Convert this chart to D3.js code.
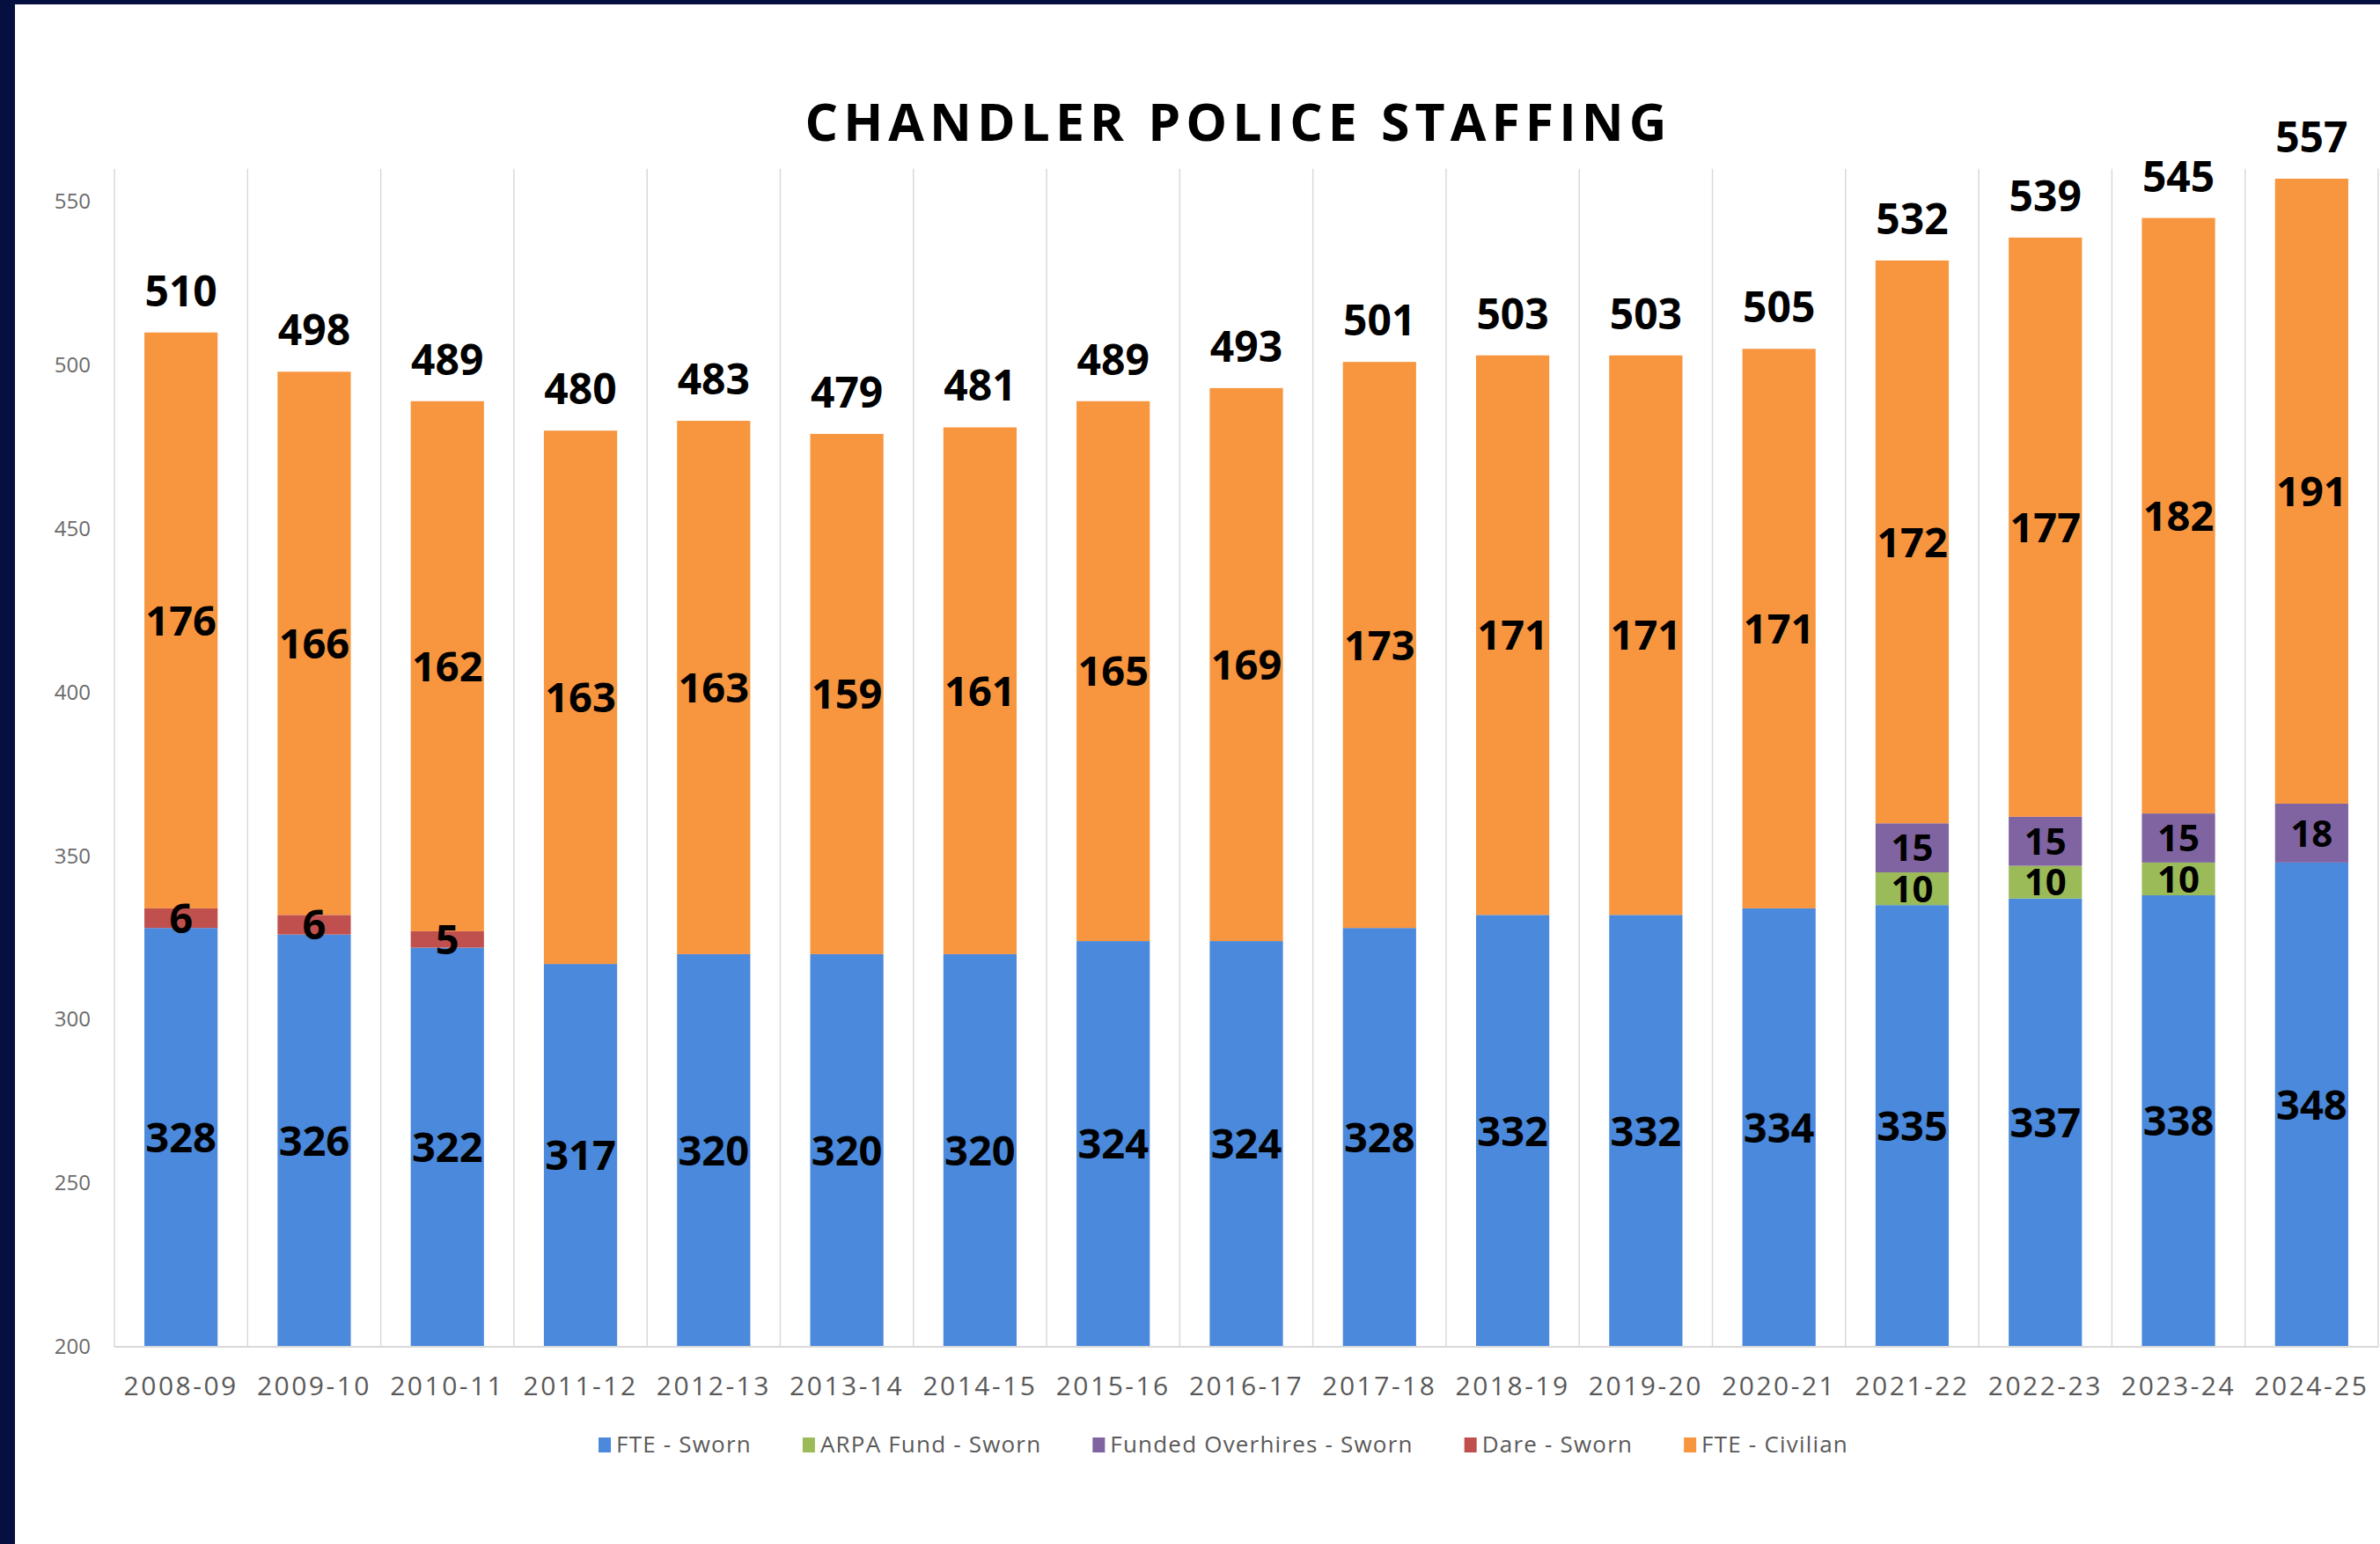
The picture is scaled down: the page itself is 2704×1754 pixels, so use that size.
<!DOCTYPE html>
<html>
<head>
<meta charset="utf-8">
<script src="https://cdn.jsdelivr.net/npm/d3@7"></script>
<style>
  html, body { margin: 0; padding: 0; background: #ffffff; }
  svg { display: block; }
  text { font-family: "Open Sans", "Noto Sans", sans-serif; }
</style>
</head>
<body>
<script>
// ---- Data ----
const title = "CHANDLER POLICE STAFFING";
const categories = ["2008-09","2009-10","2010-11","2011-12","2012-13","2013-14","2014-15","2015-16","2016-17","2017-18","2018-19","2019-20","2020-21","2021-22","2022-23","2023-24","2024-25"];
const fteSworn     = [328,326,322,317,320,320,320,324,324,328,332,332,334,335,337,338,348];
const arpaSworn    = [0,0,0,0,0,0,0,0,0,0,0,0,0,10,10,10,0];
const overhires    = [0,0,0,0,0,0,0,0,0,0,0,0,0,15,15,15,18];
const dareSworn    = [6,6,5,0,0,0,0,0,0,0,0,0,0,0,0,0,0];
const fteCivilian  = [176,166,162,163,163,159,161,165,169,173,171,171,171,172,177,182,191];
const yTicks = [200,250,300,350,400,450,500,550];
const seriesNames = ["FTE - Sworn","ARPA Fund - Sworn","Funded Overhires - Sworn","Dare - Sworn","FTE - Civilian"];
const seriesColors = ["#4A89DC","#9BBB59","#8064A2","#C0504D","#F7963F"];

// ---- Layout ----
const W = 2704, H = 1754;
const plotLeft = 130, plotRight = 2702;
const svg = d3.select("body").append("svg").attr("width", W).attr("height", H);

svg.append("rect").attr("x",0).attr("y",0).attr("width",W).attr("height",H).attr("fill","#ffffff");
svg.append("rect").attr("x",0).attr("y",0).attr("width",W).attr("height",5).attr("fill","#061040");
svg.append("rect").attr("x",0).attr("y",0).attr("width",17).attr("height",H).attr("fill","#061040");

const x = d3.scaleBand().domain(categories).range([plotLeft, plotRight]).paddingInner(0.45).paddingOuter(0.225);
const y = d3.scaleLinear().domain([200, 550]).range([1530, 229]);

// vertical gridlines at category boundaries
const step = x.step();
const bounds = d3.range(categories.length + 1).map(i => plotLeft + i * step);
svg.append("g").selectAll("line").data(bounds).join("line")
  .attr("x1", d => d).attr("x2", d => d)
  .attr("y1", y(560)).attr("y2", y(200))
  .attr("stroke", "#d9d9d9").attr("stroke-width", 1.5);

// stacked data
const seriesArrays = [fteSworn, arpaSworn, overhires, dareSworn, fteCivilian];
const rows = categories.map((c, i) => {
  const r = { cat: c };
  seriesNames.forEach((n, k) => r[n] = seriesArrays[k][i]);
  return r;
});
const stack = d3.stack().keys(seriesNames);
const stacked = stack(rows);

const gBars = svg.append("g");
stacked.forEach((layer, k) => {
  gBars.append("g").attr("fill", seriesColors[k])
    .selectAll("rect").data(layer.filter(d => d[1] - d[0] > 0)).join("rect")
    .attr("x", d => x(d.data.cat))
    .attr("width", x.bandwidth())
    .attr("y", d => y(d[1]))
    .attr("height", d => y(Math.max(d[0], 200)) - y(d[1]));
});

// segment labels
const gLab = svg.append("g");
stacked.forEach((layer, k) => {
  const small = (k === 1 || k === 2);
  gLab.append("g").selectAll("text").data(layer.filter(d => d[1] - d[0] > 0)).join("text")
    .attr("x", d => x(d.data.cat) + x.bandwidth() / 2)
    .attr("y", d => y((Math.max(d[0], 200) + d[1]) / 2))
    .attr("dy", "0.36em")
    .attr("text-anchor", "middle")
    .attr("font-size", small ? 42 : 47).attr("font-weight", 700).attr("fill", "#000")
    .text(d => d[1] - d[0]);
});

// total labels
const totals = rows.map((r, i) => ({ cat: r.cat, total: d3.sum(seriesArrays, a => a[i]) }));
svg.append("g").selectAll("text").data(totals).join("text")
  .attr("x", d => x(d.cat) + x.bandwidth() / 2)
  .attr("y", d => y(d.total) - 30)
  .attr("text-anchor", "middle")
  .attr("font-size", 48).attr("font-weight", 700).attr("fill", "#000")
  .text(d => d.total);

// y axis
const yAxis = svg.append("g").attr("transform", `translate(${plotLeft},0)`)
  .call(d3.axisLeft(y).tickValues(yTicks).tickSize(0).tickPadding(27));
yAxis.select(".domain").remove();
yAxis.selectAll("text").attr("font-size", 24).attr("fill", "#6b6b6b")
  .attr("font-family", "\"Open Sans\", sans-serif");

// x axis
const xAxis = svg.append("g").attr("transform", `translate(0,${y(200)})`)
  .call(d3.axisBottom(x).tickSize(0).tickPadding(0));
xAxis.select(".domain").attr("stroke", "#d9d9d9").attr("stroke-width", 2)
  .attr("d", `M${plotLeft},0H${plotRight}`);
xAxis.selectAll("text").attr("font-size", 30).attr("fill", "#595959")
  .attr("letter-spacing", 2.5).attr("y", 55).attr("dy", 0)
  .attr("font-family", "\"Open Sans\", sans-serif");

// title
svg.append("text").attr("x", 1407).attr("y", 160).attr("text-anchor", "middle")
  .attr("font-size", 59).attr("font-weight", 700).attr("letter-spacing", 6)
  .attr("fill", "#000").text(title);

// legend
const leg = svg.append("g");
let cx = 0;
seriesNames.forEach((n, k) => {
  const g = leg.append("g").attr("transform", `translate(${cx},0)`);
  g.append("rect").attr("x", 0).attr("y", -17).attr("width", 14).attr("height", 17).attr("fill", seriesColors[k]);
  const t = g.append("text").attr("x", 20).attr("y", 0)
    .attr("font-size", 26).attr("letter-spacing", 1.2).attr("fill", "#595959").text(n);
  const w = t.node().getComputedTextLength();
  cx += 20 + w + 58;
});
const legW = cx - 58;
leg.attr("transform", `translate(${1390 - legW / 2},1650)`);
</script>
</body>
</html>
